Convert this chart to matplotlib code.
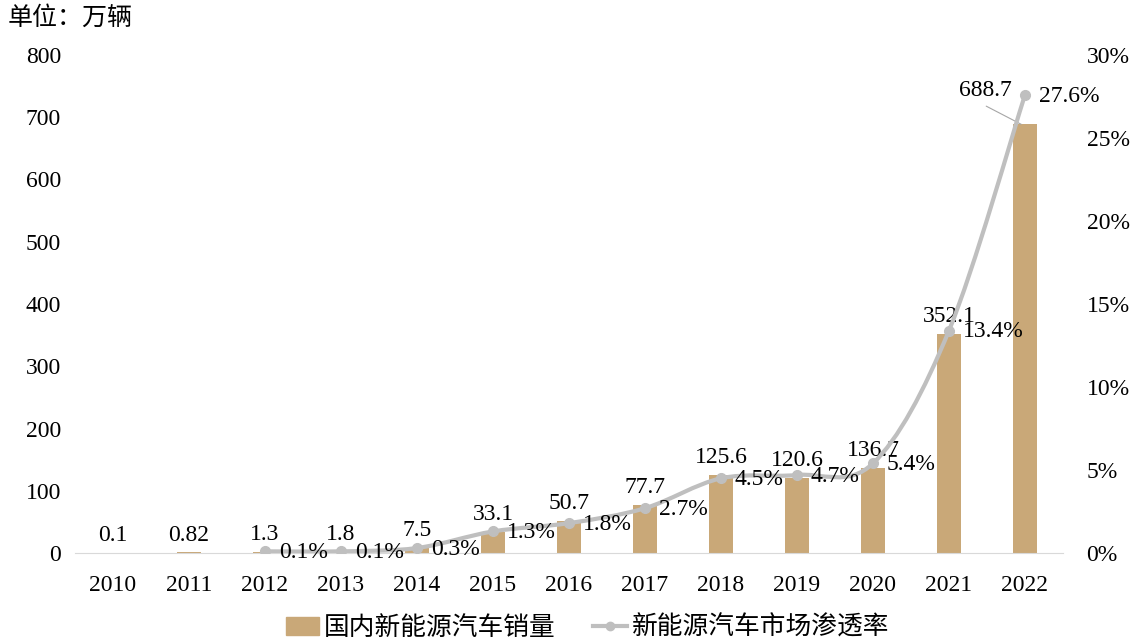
import numpy as np
import matplotlib.pyplot as plt
from matplotlib.path import Path
from matplotlib.patches import PathPatch
from matplotlib.lines import Line2D
from matplotlib.patches import Patch

plt.rcParams['font.family'] = ['Liberation Serif', 'Noto Sans CJK SC']

# 数据
years = ['2010', '2011', '2012', '2013', '2014', '2015', '2016',
         '2017', '2018', '2019', '2020', '2021', '2022']
sales = [0.1, 0.82, 1.3, 1.8, 7.5, 33.1, 50.7, 77.7, 125.6, 120.6, 136.7, 352.1, 688.7]
sales_labels = ['0.1', '0.82', '1.3', '1.8', '7.5', '33.1', '50.7', '77.7',
                '125.6', '120.6', '136.7', '352.1', '688.7']
# 渗透率从2012年开始
rate_years_idx = [2, 3, 4, 5, 6, 7, 8, 9, 10, 11, 12]
rate = [0.1, 0.1, 0.3, 1.3, 1.8, 2.7, 4.5, 4.7, 5.4, 13.4, 27.6]

bar_color = '#C9A878'
line_color = '#BFBFBF'
fs = 17

fig = plt.figure(figsize=(11.43, 6.44), dpi=100)
ax = fig.add_axes([0.0656, 0.1413, 0.8644, 0.7733])
ax2 = ax.twinx()

x = np.arange(len(years))
ax.bar(x, sales, width=0.32, color=bar_color, zorder=2)
ax.set_xlim(-0.5, len(years) - 0.5)
ax.set_ylim(0, 800)
ax.set_yticks(range(0, 801, 100))
ax.set_xticks(x)
ax.set_xticklabels(years)
ax.tick_params(axis='both', length=0, labelsize=fs, colors='black')
ax.tick_params(axis='x', pad=16)
ax.tick_params(axis='y', pad=10)
for s in ['top', 'right', 'left']:
    ax.spines[s].set_visible(False)
    ax2.spines[s].set_visible(False)
ax.spines['bottom'].set_color('#D9D9D9')
ax2.spines['bottom'].set_visible(False)

ax2.set_ylim(0, 30)
ax2.set_yticks(range(0, 31, 5))
ax2.set_yticklabels([f'{v}%' for v in range(0, 31, 5)])
ax2.tick_params(axis='y', length=0, labelsize=fs, pad=17)

# 平滑曲线 (Catmull-Rom -> Bezier)
px = np.array(rate_years_idx, dtype=float)
py = np.array(rate, dtype=float)
verts = [(px[0], py[0])]
codes = [Path.MOVETO]
n = len(px)
for i in range(n - 1):
    p0 = np.array([px[max(i - 1, 0)], py[max(i - 1, 0)]])
    p1 = np.array([px[i], py[i]])
    p2 = np.array([px[i + 1], py[i + 1]])
    p3 = np.array([px[min(i + 2, n - 1)], py[min(i + 2, n - 1)]])
    c1 = p1 + (p2 - p0) / 6
    c2 = p2 - (p3 - p1) / 6
    verts += [tuple(c1), tuple(c2), tuple(p2)]
    codes += [Path.CURVE4] * 3
ax2.add_patch(PathPatch(Path(verts, codes), facecolor='none',
                        edgecolor=line_color, lw=3, zorder=3))
ax2.plot(px, py, 'o', color=line_color, markersize=7, zorder=4)

# 柱状标签
for i, (v, lab) in enumerate(zip(sales, sales_labels)):
    if i == len(sales) - 1:
        continue
    ax.annotate(lab, (i, v), xytext=(0, 5), textcoords='offset points',
                ha='center', va='bottom', fontsize=fs)
ax.annotate(sales_labels[-1], (x[-1] - 0.05, sales[-1]), xytext=(-26, 24),
            textcoords='offset points', ha='center', va='center', fontsize=fs,
            arrowprops=dict(arrowstyle='-', color='#A6A6A6', lw=0.8,
                            relpos=(0.35, 0), shrinkA=3, shrinkB=0))

# 渗透率标签
for i, r in zip(rate_years_idx, rate):
    ax2.annotate(f'{r}%', (i, r), xytext=(10, -1), textcoords='offset points',
                 ha='left', va='center', fontsize=fs, zorder=5)

fig.text(0.007, 0.972, '单位：万辆', fontsize=18, va='center', ha='left')

handles = [Patch(color=bar_color),
           Line2D([0], [0], color=line_color, lw=3, marker='o', markersize=6)]
fig.legend(handles, ['国内新能源汽车销量', '新能源汽车市场渗透率'],
           loc='center', bbox_to_anchor=(0.514, 0.025), ncol=2, frameon=False,
           fontsize=18.5, handlelength=1.3, columnspacing=1.45, handletextpad=0.2)

fig.savefig('out.png', dpi=100)
